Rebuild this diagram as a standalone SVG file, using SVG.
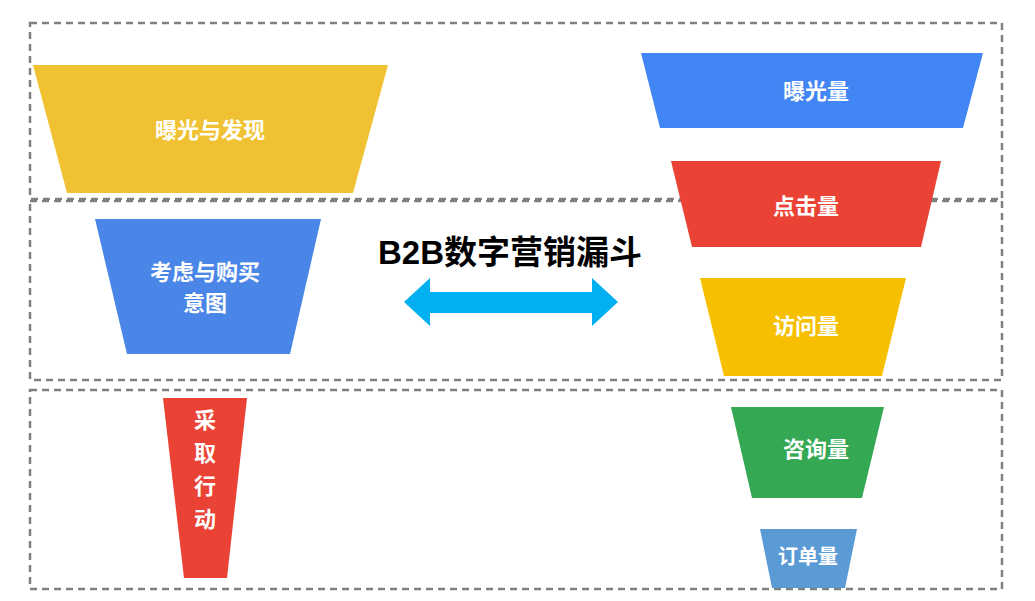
<svg xmlns="http://www.w3.org/2000/svg" width="1035" height="601" viewBox="0 0 1035 601">
<style>
.box{fill:none;stroke:#808080;stroke-width:2.5;stroke-dasharray:7 5}
.t{font-family:"Liberation Sans","Noto Sans CJK SC",sans-serif;font-weight:bold;fill:#fff;font-size:22px;text-anchor:middle}
.title{font-family:"Liberation Sans","Noto Sans CJK SC",sans-serif;font-weight:bold;fill:#000;font-size:33px;text-anchor:middle}
</style>
<rect fill="#fff" width="1035" height="601"/>
<g id="frames">
<rect class="box" x="30" y="23" width="972" height="176"/>
<rect class="box" x="30" y="201" width="972" height="179"/>
<rect class="box" x="30" y="390" width="972" height="199"/>
</g>
<g id="n1"><polygon fill="#F0C233" points="33,65 388,65 353,193 67,193"/><text class="t" x="210" y="138">曝光与发现</text></g>
<g id="n2"><polygon fill="#4A86E8" points="95,219 321,219 290,354 127,354"/><text class="t" x="205" y="280">考虑与购买</text><text class="t" x="205" y="311">意图</text></g>
<g id="n3"><polygon fill="#EA4335" points="163,398 247,398 227,578 184,578"/>
<text class="t" x="205" y="428">采</text><text class="t" x="205" y="461">取</text><text class="t" x="205" y="494">行</text><text class="t" x="205" y="527">动</text></g>
<g id="r1"><polygon fill="#4285F4" points="641,53 983,53 963,128 660,128"/><text class="t" x="816" y="99">曝光量</text></g>
<g id="r2"><polygon fill="#EA4335" points="671,161 941,161 921,247 692,247"/><text class="t" x="806" y="214">点击量</text></g>
<g id="r3"><polygon fill="#F6BF00" points="700,278 906,278 882,376 724,376"/><text class="t" x="806" y="334">访问量</text></g>
<g id="r4"><polygon fill="#34A853" points="731,407 884,407 862,498 752,498"/><text class="t" x="816" y="457">咨询量</text></g>
<g id="r5"><polygon fill="#5B9BD5" points="760,529 857,529 845,588 772,588"/><text class="t" x="808" y="564" style="font-size:20px">订单量</text></g>
<g id="connectors"><polygon fill="#00B0F0" points="404,302 430,278 430,292 592,292 592,278 618,302 592,326 592,313 430,313 430,326"/></g>
<g id="title"><text class="title" x="510" y="264">B2B数字营销漏斗</text></g>
</svg>
